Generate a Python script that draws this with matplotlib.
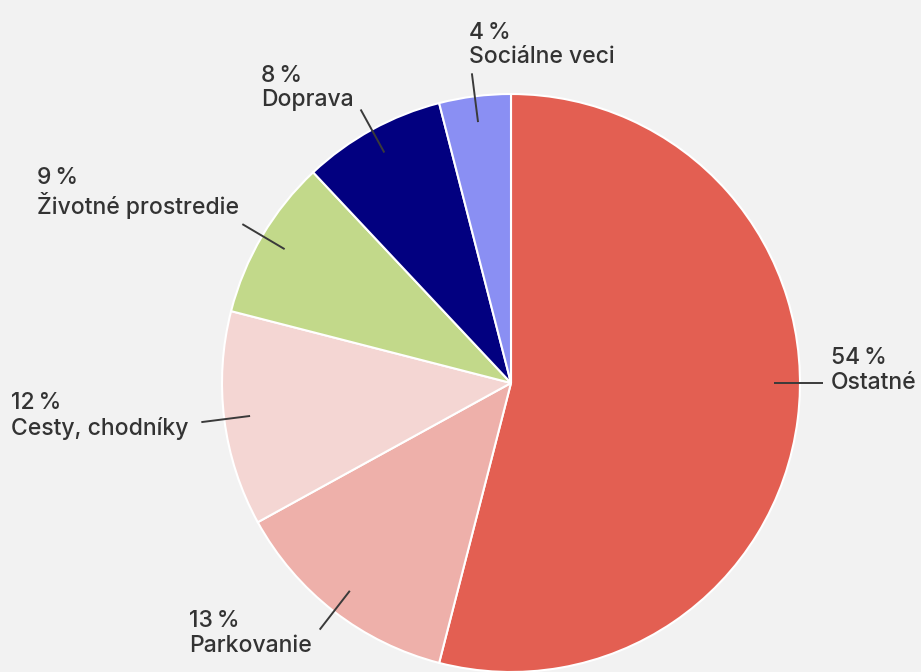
import matplotlib.pyplot as plt
import numpy as np

# pie data (clockwise from 12 o'clock)
names = ["Ostatné", "Parkovanie", "Cesty, chodníky", "Životné prostredie", "Doprava", "Sociálne veci"]
shares = [54, 13, 12, 9, 8, 4]
colors = ["#e35f52", "#eeb0aa", "#f4d6d3", "#c2d98a", "#020080", "#8a8ff3"]

# label layout: alignment, x shift, y shift of the text block bottom (px, down = +)
label_ha = ["left", "right", "right", "right", "right", "left"]
label_dx = [8, -8, -13, -3, -7, -3]
label_dy = [11, 27, 18, -5, 2, -5]
leader_angle = [0, None, None, None, None, None]  # None -> mid angle of slice

plt.rcParams["font.family"] = ["Inter", "DejaVu Sans"]

R = 289
fig = plt.figure(figsize=(9.21, 6.72), dpi=100, facecolor="#f2f2f2")
ax = fig.add_axes([0, 0, 1, 1])
ax.set_facecolor("#f2f2f2")

ax.pie(shares, colors=colors, radius=R, center=(0, 0), startangle=90,
       counterclock=False, frame=True,
       wedgeprops=dict(edgecolor="white", linewidth=1.5))

cum = np.cumsum([0] + shares)
total = sum(shares)
for i, name in enumerate(names):
    mid = 90 - 360 * (cum[i] + cum[i + 1]) / 2 / total
    a = np.deg2rad(mid if leader_angle[i] is None else leader_angle[i])
    x0, y0 = 0.91 * R * np.cos(a), 0.91 * R * np.sin(a)
    x1, y1 = 1.08 * R * np.cos(a), 1.08 * R * np.sin(a)
    ax.plot([x0, x1], [y0, y1], color="#3a3a3a", lw=1.4, solid_capstyle="butt")
    ax.text(x1 + label_dx[i], y1 - label_dy[i], f"{shares[i]}\u2009%\n{name}",
            ha=label_ha[i], va="bottom", multialignment="left",
            fontsize=16.5, fontweight="medium", color="#333333", linespacing=1.15)

ax.set_xlim(-511, 410)
ax.set_ylim(-289, 383)
ax.set_aspect("equal")
ax.axis("off")

plt.savefig("out.png", dpi=100, facecolor="#f2f2f2")
